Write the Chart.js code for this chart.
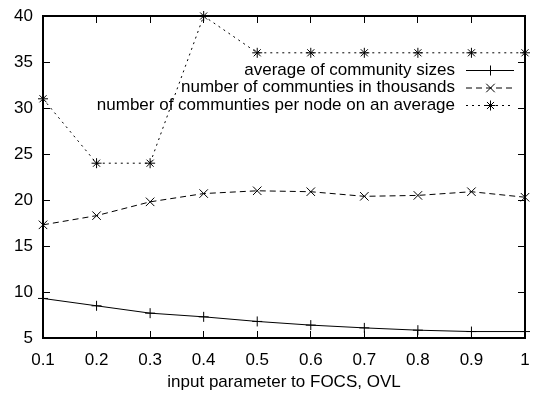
<!DOCTYPE html>
<html>
<head>
<meta charset="utf-8">
<script src="https://cdn.jsdelivr.net/npm/chart.js@4/dist/chart.umd.min.js"></script>
<style>
  html, body { margin: 0; padding: 0; background: #fff; }
</style>
</head>
<body>
<canvas id="c" width="537" height="393"></canvas>
<script>
// input parameter to FOCS, OVL
const params = [0.1, 0.2, 0.3, 0.4, 0.5, 0.6, 0.7, 0.8, 0.9, 1.0];
const avgCommunitySize = [9.3, 8.5, 7.7, 7.3, 6.8, 6.4, 6.1, 5.85, 5.7, 5.7];
const communitiesThousands = [17.3, 18.3, 19.8, 20.7, 21.0, 20.9, 20.4, 20.5, 20.9, 20.3];
const communitiesPerNode = [31, 24, 24, 40, 36, 36, 36, 36, 36, 36];
const xTicks = [0.1, 0.2, 0.3, 0.4, 0.5, 0.6, 0.7, 0.8, 0.9, 1.0];
const yTicks = [5, 10, 15, 20, 25, 30, 35, 40];
const seriesNames = [
  'average of community sizes',
  'number of communties in thousands',
  'number of communties per node on an average'
];

const FONT = '"Liberation Sans", Arial, Helvetica, sans-serif';
const pts = ys => params.map((x, i) => ({ x: x, y: ys[i] }));

const styles = [
  { dash: [], point: 'cross', radius: 5 },
  { dash: [6, 4], point: 'crossRot', radius: 6 },
  { dash: [2, 4], point: 'star', radius: 5 }
];
const seriesData = [avgCommunitySize, communitiesThousands, communitiesPerNode];

const datasets = seriesData.map((ys, i) => ({
  label: seriesNames[i],
  data: pts(ys),
  borderColor: '#000',
  backgroundColor: '#000',
  borderWidth: 1,
  borderDash: styles[i].dash,
  pointStyle: styles[i].point,
  pointRadius: styles[i].radius,
  pointBorderWidth: 1,
  pointBorderColor: '#000',
  pointHoverRadius: styles[i].radius,
  tension: 0,
  fill: false,
  clip: false
}));

// Marker glyphs for the key: plus, x and asterisk
function keyMarker(ctx, style, r, x, y) {
  ctx.beginPath();
  if (style === 'cross' || style === 'star') {
    ctx.moveTo(x - r, y); ctx.lineTo(x + r, y);
    ctx.moveTo(x, y - r); ctx.lineTo(x, y + r);
  }
  if (style === 'crossRot' || style === 'star') {
    const d = r * Math.SQRT1_2;
    ctx.moveTo(x - d, y - d); ctx.lineTo(x + d, y + d);
    ctx.moveTo(x - d, y + d); ctx.lineTo(x + d, y - d);
  }
  ctx.stroke();
}

// Key in the upper right of the plot
const keyPlugin = {
  id: 'seriesKey',
  afterDraw(chart) {
    const ctx = chart.ctx;
    ctx.save();
    ctx.font = '17px ' + FONT;
    ctx.fillStyle = '#000';
    ctx.strokeStyle = '#000';
    ctx.lineWidth = 1;
    ctx.textAlign = 'right';
    ctx.textBaseline = 'middle';
    const textRight = 455, lx0 = 466, lx1 = 514, lxm = 490;
    const rowY = [70, 87.5, 105];
    seriesNames.forEach((name, i) => {
      const y = rowY[i];
      ctx.fillText(name, textRight, y);
      ctx.setLineDash(styles[i].dash);
      ctx.beginPath();
      ctx.moveTo(lx0, y + 0.5); ctx.lineTo(lx1, y + 0.5);
      ctx.stroke();
      ctx.setLineDash([]);
      keyMarker(ctx, styles[i].point, styles[i].radius, lxm + 0.5, y + 0.5);
    });
    ctx.restore();
  }
};

// Frame sides come from axis borders; negative tick length turns the ticks inward
const frameGrid = { drawOnChartArea: false, drawTicks: true, tickLength: -7, color: '#000', lineWidth: 1 };
const frameBorder = { display: true, color: '#000', width: 2 };
const setX = s => { s.ticks = xTicks.map(v => ({ value: v })); };
const setY = s => { s.ticks = yTicks.map(v => ({ value: v })); };

new Chart(document.getElementById('c'), {
  type: 'line',
  data: { datasets: datasets },
  options: {
    responsive: false,
    animation: false,
    devicePixelRatio: 1,
    layout: { padding: { top: 16, right: 12, left: 0, bottom: 0 } },
    plugins: { legend: { display: false }, tooltip: { enabled: false } },
    scales: {
      x: {
        type: 'linear',
        position: 'bottom',
        min: 0.1,
        max: 1.0,
        afterBuildTicks: setX,
        afterFit: s => { s.height = 55; s.paddingLeft = 0; s.paddingRight = 0; },
        grid: frameGrid,
        border: frameBorder,
        ticks: {
          color: '#000',
          font: { family: FONT, size: 17 },
          padding: 19,
          maxRotation: 0,
          autoSkip: false,
          callback: v => (Math.round(v * 10) / 10).toString()
        },
        title: {
          display: true,
          text: 'input parameter to FOCS, OVL',
          color: '#000',
          font: { family: FONT, size: 17 },
          padding: { top: 2, bottom: 0 }
        }
      },
      xTop: {
        type: 'linear',
        position: 'top',
        axis: 'x',
        min: 0.1,
        max: 1.0,
        afterBuildTicks: setX,
        afterFit: s => { s.height = 0; s.paddingLeft = 0; s.paddingRight = 0; },
        grid: frameGrid,
        border: frameBorder,
        ticks: { display: false }
      },
      y: {
        type: 'linear',
        position: 'left',
        min: 5,
        max: 40,
        afterBuildTicks: setY,
        afterFit: s => { s.width = 43; s.paddingTop = 0; s.paddingBottom = 0; },
        grid: frameGrid,
        border: frameBorder,
        ticks: {
          color: '#000',
          font: { family: FONT, size: 17 },
          padding: 17
        }
      },
      yRight: {
        type: 'linear',
        position: 'right',
        axis: 'y',
        min: 5,
        max: 40,
        afterBuildTicks: setY,
        afterFit: s => { s.width = 0; s.paddingTop = 0; s.paddingBottom = 0; },
        grid: frameGrid,
        border: frameBorder,
        ticks: { display: false }
      }
    }
  },
  plugins: [keyPlugin]
});
</script>
</body>
</html>
